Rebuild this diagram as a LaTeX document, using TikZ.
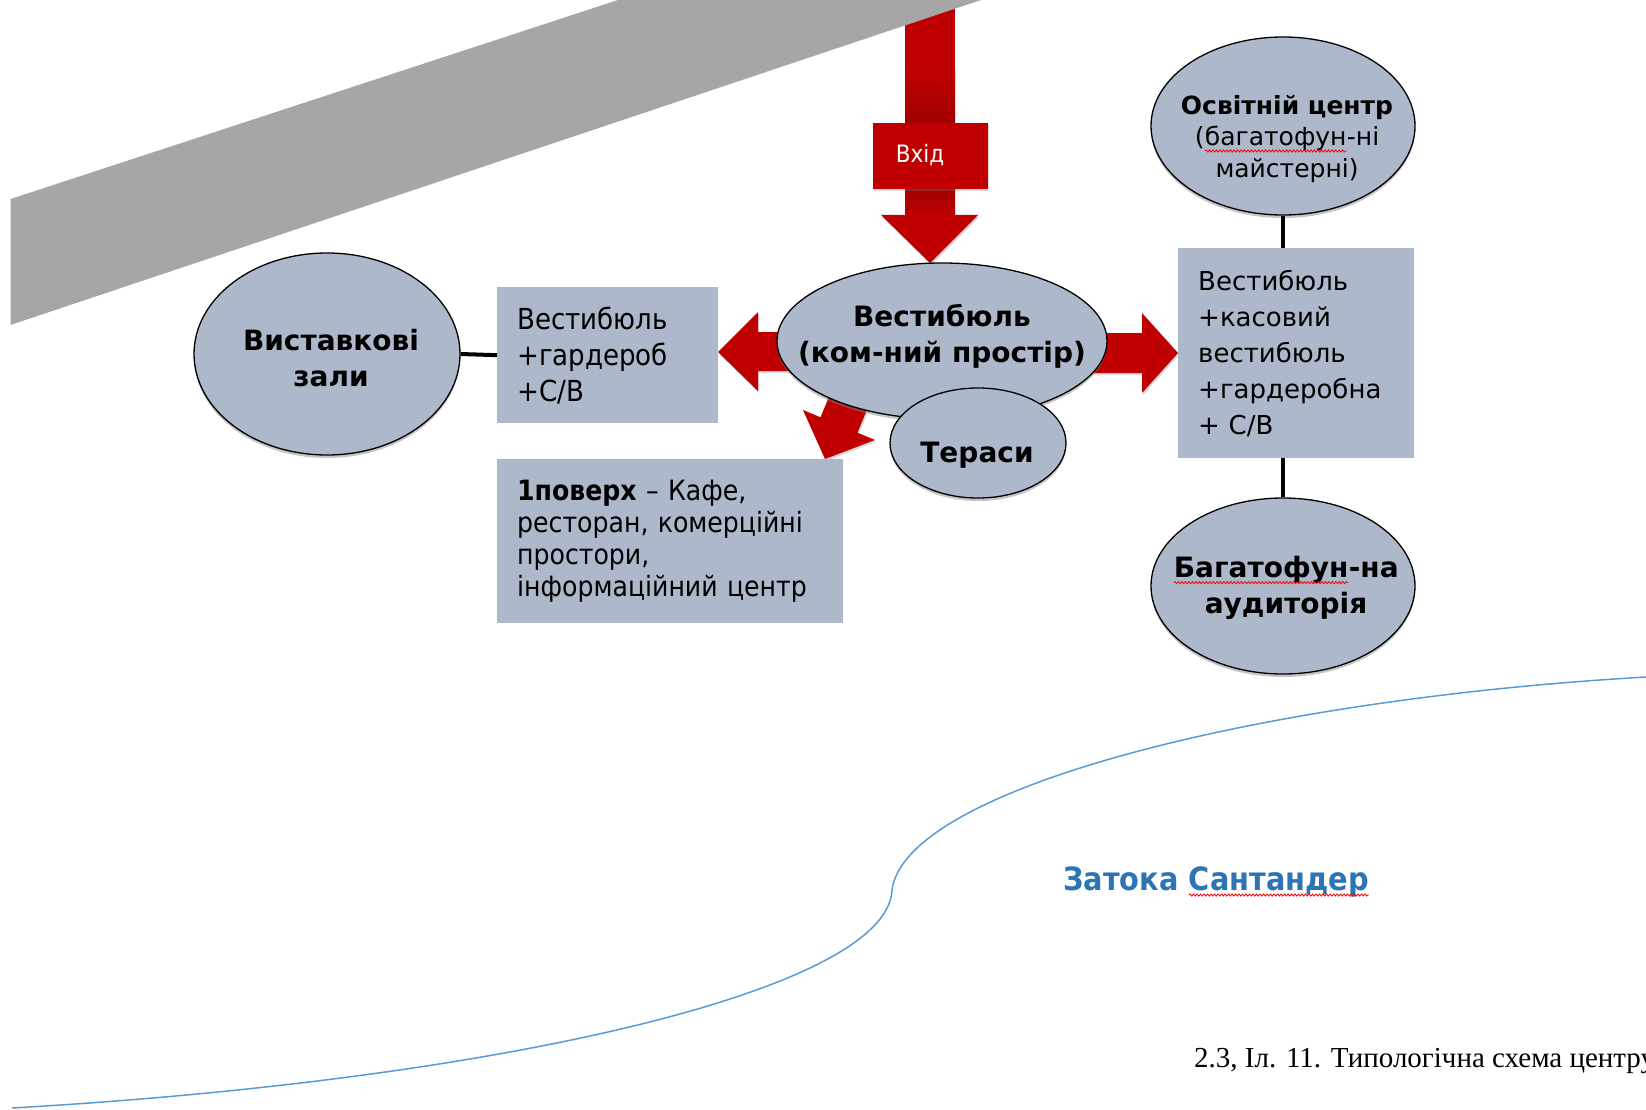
\documentclass[tikz,border=0pt]{standalone}
\usepackage{fontspec}
\setmainfont{DejaVu Sans}
\newfontfamily\taho{DejaVu Sans Condensed}
\newfontfamily\tnr{Liberation Serif}
\usetikzlibrary{shapes.geometric,shadows,decorations.pathmorphing}
\definecolor{nodefill}{RGB}{173,185,202}
\definecolor{arrred}{RGB}{192,0,0}
\definecolor{darkred}{RGB}{160,0,0}
\definecolor{bandgray}{RGB}{166,166,166}
\definecolor{seablue}{RGB}{91,155,213}
\definecolor{titleblue}{RGB}{46,116,181}
\newcommand\redwave[1]{\tikz[baseline=(w.base)]{\node[inner sep=0pt,outer sep=0pt](w){#1};\draw[red, line width=0.8pt, decorate, decoration={snake, amplitude=1.1pt, segment length=3.5pt}] ([yshift=-5pt]w.base west) -- ([yshift=-5pt]w.base east);}}
\begin{document}
\begin{tikzpicture}[x=1pt,y=-1pt,
  ell/.style={ellipse, draw=black, line width=1.3pt, fill=nodefill, inner sep=0pt,
    drop shadow={shadow xshift=0pt, shadow yshift=-3pt, opacity=0.45}},
  etext/.style={align=center, inner sep=0pt, font=\fontsize{28}{36}\selectfont\bfseries},
  boxnode/.style={rectangle, fill=nodefill, inner xsep=20pt, inner ysep=0pt, anchor=north west, align=left},
  link/.style={line width=4pt, black},
  redarrow/.style={fill=arrred, drop shadow={shadow xshift=1pt, shadow yshift=-2pt, opacity=0.3}}
]
\useasboundingbox (0,0) rectangle (1646,1110);
\clip (0,0) rectangle (1646,1110);
\fill[white] (0,0) rectangle (1646,1110);

% entrance shaft
\fill[arrred] (905,0) rectangle (955,70);
\shade[top color=arrred, bottom color=darkred] (905,69) rectangle (955,124);
\shade[top color=darkred, bottom color=arrred] (905,188) rectangle (955,216);
\fill[redarrow] (881,215) -- (978,215) -- (930,263) -- cycle;

% road band
\fill[bandgray] (10.5,199) -- (618,0) -- (981,0) -- (10.5,325) -- cycle;

\node[fill=arrred, minimum width=115pt, minimum height=66pt, inner sep=0pt, text=white,
  drop shadow={shadow xshift=1pt, shadow yshift=-2pt, opacity=0.3}] (vhid) at (930.5,156) {};
\node[text=white, inner sep=0pt, font=\taho\fontsize{24}{28}\selectfont] (vhidT) at (920,155) {Вхід};

% side arrows
\fill[redarrow] (800,332) -- (758,332) -- (758,312) -- (718,352) -- (758,391) -- (758,371) -- (800,371) -- cycle;
\fill[redarrow] (1080,333) -- (1142,333) -- (1142,313) -- (1178,353) -- (1142,393) -- (1142,373) -- (1080,373) -- cycle;
\fill[redarrow] (839.5,371.3) -- (820.5,417.3) -- (803,410) -- (825,459) -- (875,440) -- (857.5,432.7) -- (876.5,386.7) -- cycle;

% ellipses
\node[ell, minimum width=330pt, minimum height=156pt] (vest) at (942,341) {};
\node[etext] (vestT) at (942,336) {Вестибюль\\(ком-ний простір)};
\node[ell, minimum width=176pt, minimum height=110pt] (ter) at (978,443) {};
\node[etext] (terT) at (977,455) {Тераси};
\node[ell, minimum width=266pt, minimum height=202pt] (vz) at (327,354) {};
\node[etext] (vzT) at (331,358) {Виставкові\\зали};
\node[ell, minimum width=264pt, minimum height=178pt] (osv) at (1283,126) {};
\node[etext, font=\fontsize{25}{31.5}\selectfont\bfseries] (osvT) at (1287,139) {Освітній центр\\\mdseries(\redwave{багатофун}-ні\\\mdseries майстерні)};
\node[ell, minimum width=264pt, minimum height=176pt] (bag) at (1283,586) {};
\node[etext] (bagT) at (1286,588) {\redwave{Багатофун}-на\\аудиторія};

% boxes
\node[boxnode, minimum width=221pt, minimum height=136pt, text width=181pt,
  font=\taho\fontsize{29}{36}\selectfont] (lbox) at (497,287) {Вестибюль\\+гардероб\\+С/В};
\node[boxnode, minimum width=346pt, minimum height=164pt, text width=306pt,
  font=\taho\fontsize{28}{32}\selectfont] (fbox) at (497,459) {\textbf{1поверх} – Кафе,\\ресторан, комерційні\\простори,\\інформаційний центр};
\node[boxnode, minimum width=236pt, minimum height=210pt, text width=196pt,
  font=\fontsize{26}{36}\selectfont] (rbox) at (1178,248) {Вестибюль\\+касовий\\вестибюль\\+гардеробна\\+ С/В};

% connectors
\draw[link] (vz.east) -- (lbox.west);
\draw[link] (osv.south) -- (osv.south |- rbox.north);
\draw[link] (bag.north |- rbox.south) -- (bag.north);

% sea line
\draw[seablue, line width=1.5pt] (1646,677) .. controls (1250,700) and (905,790) .. (892,890)
  .. controls (888,990) and (500,1080) .. (12,1108);

\node[anchor=base west, inner sep=0pt, text=titleblue, font=\taho\bfseries\fontsize{32}{36}\selectfont] (bay) at (1063,890) {Затока \redwave{Сантандер}};
\node[anchor=base west, inner sep=0pt, font=\tnr\fontsize{29}{34}\selectfont] (cap) at (1194,1067) {2.3, Іл. 11. Типологічна схема центру};
\end{tikzpicture}
\end{document}
